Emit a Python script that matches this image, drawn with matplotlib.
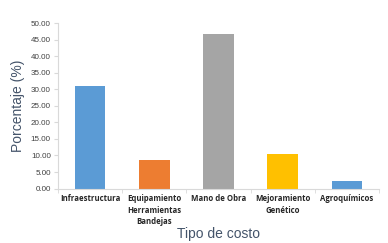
import matplotlib.pyplot as plt

CATEGORIES = ["Infraestructura", "Equipamiento\nHerramientas\nBandejas",
    "Mano de Obra", "Mejoramiento\nGenético", "Agroquímicos"]
VALUES = [31.0, 8.6, 46.7, 10.4, 2.2]
COLORS = ["#5B9BD5", "#ED7D31", "#A5A5A5", "#FFC000", "#5B9BD5"]
Y_TICKS = [0, 5, 10, 15, 20, 25, 30, 35, 40, 45, 50]

TEXT_COLOR = "#44546A"

fig = plt.figure(figsize=(3.88, 2.43), dpi=100)
ax = fig.add_axes([0.149, 0.224, 0.828, 0.681])

x = range(len(CATEGORIES))
ax.bar(x, VALUES, width=0.48, color=COLORS, zorder=2)

ax.set_xlim(-0.5, len(CATEGORIES) - 0.5)
ax.set_ylim(0, 50)
ax.set_yticks(Y_TICKS)
ax.set_yticklabels(["%.2f" % v for v in Y_TICKS], fontsize=5.8,
    color="#404040", family="Liberation Sans")

ax.set_xticks(list(x))
ax.set_xticklabels(CATEGORIES, fontsize=5.6, fontweight="bold",
    family="Open Sans", color="#262626", linespacing=1.35, va="top")
ax.set_xticks([i + 0.5 for i in range(-1, len(CATEGORIES))], minor=True)
ax.tick_params(axis="x", which="major", length=0, pad=4)
ax.tick_params(axis="x", which="minor", length=3, color="#D9D9D9")
ax.tick_params(axis="y", length=3, color="#D9D9D9", pad=2)

for side in ["top", "right"]:
    ax.spines[side].set_visible(False)
for side in ["left", "bottom"]:
    ax.spines[side].set_color("#D9D9D9")
    ax.spines[side].set_linewidth(0.8)

ax.set_ylabel("Porcentaje (%)", fontsize=10, color=TEXT_COLOR,
    family="Liberation Sans", labelpad=4)
ax.set_xlabel("Tipo de costo", fontsize=10, color=TEXT_COLOR,
    family="Liberation Sans", labelpad=1)

fig.savefig("out.png", dpi=100)
